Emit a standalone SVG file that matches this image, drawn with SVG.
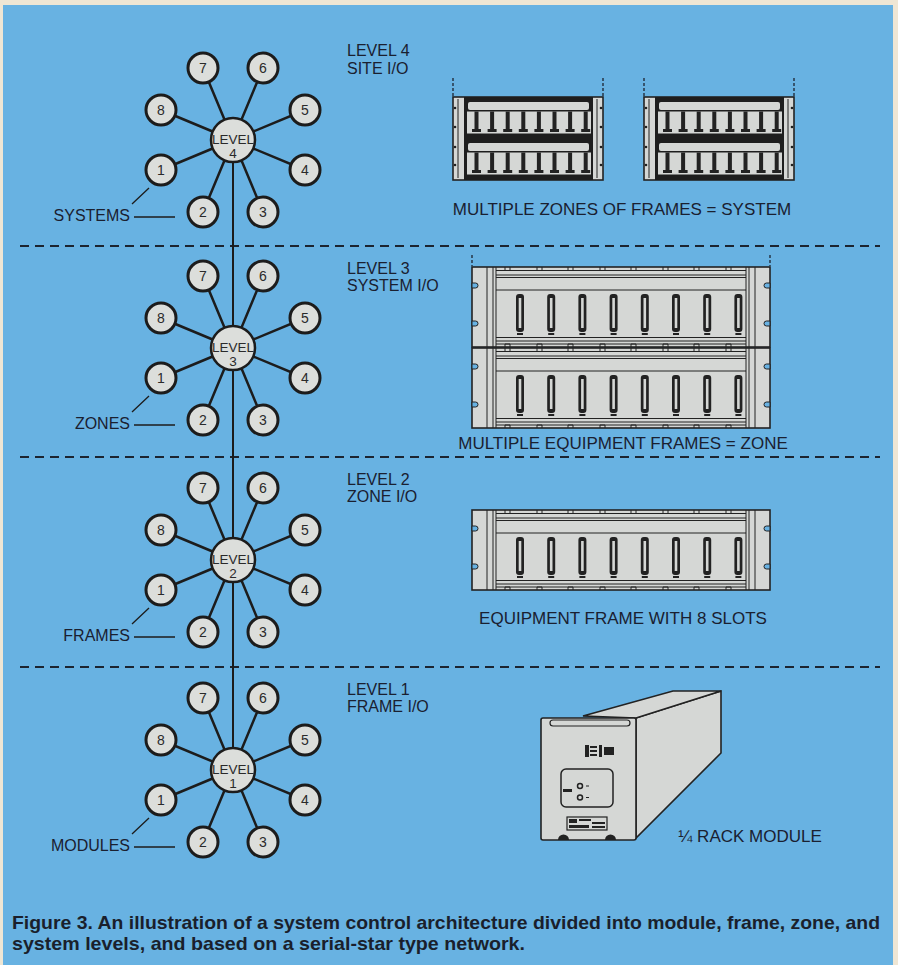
<svg xmlns="http://www.w3.org/2000/svg" width="898" height="965" viewBox="0 0 898 965">
<style>
.sat{fill:#dcdedb;stroke:#1c1c1c;stroke-width:3}
.hub{fill:#dcdedb;stroke:#1c1c1c;stroke-width:2.5}
.num{font-family:"Liberation Sans",Arial,sans-serif;font-size:14px;fill:#2a2a2a;text-anchor:middle}
.hubt{font-family:"Liberation Sans",Arial,sans-serif;font-size:13.5px;fill:#2a2a2a;text-anchor:middle}
.lbl{font-family:"Liberation Sans",Arial,sans-serif;font-size:16px;fill:#1a2030}
.lend{text-anchor:end}
.cap{font-family:"Liberation Sans",Arial,sans-serif;font-size:17px;fill:#1a2030;text-anchor:middle}
.fig{font-family:"Liberation Sans",Arial,sans-serif;font-size:19px;font-weight:bold;fill:#1a1f2c}
.spoke{stroke:#1c1c1c;stroke-width:2.5;fill:none}
.trunk{stroke:#1c1c1c;stroke-width:2;fill:none}
.lead{stroke:#1c1c1c;stroke-width:1.3;fill:none}
.sep{stroke:#1c2430;stroke-width:2;stroke-dasharray:9 6;fill:none}
.mark{stroke:#1c2430;stroke-width:1.3;stroke-dasharray:3 2;fill:none}
.metal{fill:#d5d7d5;stroke:#222;stroke-width:1.6}
.ln{stroke:#222;stroke-width:1;fill:none}
.dk{fill:#222}
.lt{fill:#d5d7d5}
.notch{fill:#68b2e2;stroke:#222;stroke-width:1}
</style>
<defs>
<g id="frame">
<rect class="metal" x="0" y="0" width="298" height="80"/>
<path class="ln" d="M15,0V80M21,0V80M24,0V80M274,0V80M277,0V80M283,0V80M24,3.5H274M24,8H274M24,10.5H274M24,23H274M24,70.5H274M24,74H274M24,77H274"/>
<path class="notch" d="M0,16h3.5a2.5,2.5 0 0 1 0,5h-3.5zM0,54h3.5a2.5,2.5 0 0 1 0,5h-3.5zM298,16h-3.5a2.5,2.5 0 0 0 0,5h3.5zM298,54h-3.5a2.5,2.5 0 0 0 0,5h3.5z"/>
<path class="ln" d="M33,0v3.5h5v-3.5M65,0v3.5h5v-3.5M96,0v3.5h5v-3.5M128,0v3.5h5v-3.5M159,0v3.5h5v-3.5M191,0v3.5h5v-3.5M222,0v3.5h5v-3.5M254,0v3.5h5v-3.5M33,80v-3h5v3M65,80v-3h5v3M96,80v-3h5v3M128,80v-3h5v3M159,80v-3h5v3M191,80v-3h5v3M222,80v-3h5v3M254,80v-3h5v3"/>
<g id="fslot"><rect class="dk" x="44" y="27" width="8" height="38" rx="3"/><rect class="lt" x="46.7" y="31" width="2.6" height="30"/><rect class="dk" x="45" y="66" width="6" height="2"/></g>
<use href="#fslot" x="31.2"/><use href="#fslot" x="62.4"/><use href="#fslot" x="93.6"/><use href="#fslot" x="124.8"/><use href="#fslot" x="156"/><use href="#fslot" x="187.2"/><use href="#fslot" x="218.4"/>
</g>
<g id="rack">
<rect class="metal" x="0" y="0" width="150" height="83"/>
<rect x="11" y="0" width="129" height="83" fill="#1e1e1e"/>
<path class="ln" d="M5,2V81M144,2V81"/>
<circle class="dk" cx="2" cy="11" r="1.3"/><circle class="dk" cx="2" cy="30" r="1.3"/><circle class="dk" cx="2" cy="50" r="1.3"/><circle class="dk" cx="2" cy="68" r="1.3"/>
<circle class="dk" cx="148" cy="11" r="1.3"/><circle class="dk" cx="148" cy="30" r="1.3"/><circle class="dk" cx="148" cy="50" r="1.3"/><circle class="dk" cx="148" cy="68" r="1.3"/>
<g id="rsec">
<rect class="lt" x="15" y="5" width="121" height="8" rx="2"/>
<rect class="lt" x="14" y="14.5" width="124" height="22"/>
<g id="rslot"><rect class="dk" x="21.5" y="14.5" width="4" height="18"/><rect class="dk" x="19" y="32" width="9" height="3"/></g>
<use href="#rslot" x="15.6"/><use href="#rslot" x="31.2"/><use href="#rslot" x="46.8"/><use href="#rslot" x="62.4"/><use href="#rslot" x="78"/><use href="#rslot" x="93.6"/><use href="#rslot" x="109.2"/>
</g>
<use href="#rsec" y="41"/>
</g>
</defs>
<rect x="0" y="0" width="898" height="965" fill="#efe6d4"/>
<rect x="3" y="5" width="890" height="960" fill="#68b2e2"/>

<g id="separators">
<line class="sep" x1="20" y1="246" x2="880" y2="246"/>
<line class="sep" x1="20" y1="457" x2="880" y2="457"/>
<line class="sep" x1="20" y1="667" x2="880" y2="667"/>
</g>

<g id="connectors">
<line class="trunk" x1="233" y1="140" x2="233" y2="770"/>
<path class="spoke" d="M233,140L203,68M233,140L263,68M233,140L161,110M233,140L305,110M233,140L161,170M233,140L305,170M233,140L203,212M233,140L263,212"/>
<path class="spoke" d="M233,348L203,276M233,348L263,276M233,348L161,318M233,348L305,318M233,348L161,378M233,348L305,378M233,348L203,420M233,348L263,420"/>
<path class="spoke" d="M233,560L203,488M233,560L263,488M233,560L161,530M233,560L305,530M233,560L161,590M233,560L305,590M233,560L203,632M233,560L263,632"/>
<path class="spoke" d="M233,770L203,698M233,770L263,698M233,770L161,740M233,770L305,740M233,770L161,800M233,770L305,800M233,770L203,842M233,770L263,842"/>
<path class="lead" d="M132,204L149,188M134,217H175"/>
<path class="lead" d="M132,412L149,396M134,425H175"/>
<path class="lead" d="M132,624L149,608M134,637H175"/>
<path class="lead" d="M132,834L149,818M134,847H175"/>
</g>

<g id="level4-star">
<g id="l4-hub"><circle class="hub" cx="233" cy="140" r="22"/><text class="hubt" x="233" y="144">LEVEL</text><text class="hubt" x="233" y="158">4</text></g>
<g id="l4-n7"><circle class="sat" cx="203" cy="68" r="15"/><text class="num" x="203" y="73">7</text></g>
<g id="l4-n6"><circle class="sat" cx="263" cy="68" r="15"/><text class="num" x="263" y="73">6</text></g>
<g id="l4-n8"><circle class="sat" cx="161" cy="110" r="15"/><text class="num" x="161" y="115">8</text></g>
<g id="l4-n5"><circle class="sat" cx="305" cy="110" r="15"/><text class="num" x="305" y="115">5</text></g>
<g id="l4-n1"><circle class="sat" cx="161" cy="170" r="15"/><text class="num" x="161" y="175">1</text></g>
<g id="l4-n4"><circle class="sat" cx="305" cy="170" r="15"/><text class="num" x="305" y="175">4</text></g>
<g id="l4-n2"><circle class="sat" cx="203" cy="212" r="15"/><text class="num" x="203" y="217">2</text></g>
<g id="l4-n3"><circle class="sat" cx="263" cy="212" r="15"/><text class="num" x="263" y="217">3</text></g>
</g>
<g id="level3-star">
<g id="l3-hub"><circle class="hub" cx="233" cy="348" r="22"/><text class="hubt" x="233" y="352">LEVEL</text><text class="hubt" x="233" y="366">3</text></g>
<g id="l3-n7"><circle class="sat" cx="203" cy="276" r="15"/><text class="num" x="203" y="281">7</text></g>
<g id="l3-n6"><circle class="sat" cx="263" cy="276" r="15"/><text class="num" x="263" y="281">6</text></g>
<g id="l3-n8"><circle class="sat" cx="161" cy="318" r="15"/><text class="num" x="161" y="323">8</text></g>
<g id="l3-n5"><circle class="sat" cx="305" cy="318" r="15"/><text class="num" x="305" y="323">5</text></g>
<g id="l3-n1"><circle class="sat" cx="161" cy="378" r="15"/><text class="num" x="161" y="383">1</text></g>
<g id="l3-n4"><circle class="sat" cx="305" cy="378" r="15"/><text class="num" x="305" y="383">4</text></g>
<g id="l3-n2"><circle class="sat" cx="203" cy="420" r="15"/><text class="num" x="203" y="425">2</text></g>
<g id="l3-n3"><circle class="sat" cx="263" cy="420" r="15"/><text class="num" x="263" y="425">3</text></g>
</g>
<g id="level2-star">
<g id="l2-hub"><circle class="hub" cx="233" cy="560" r="22"/><text class="hubt" x="233" y="564">LEVEL</text><text class="hubt" x="233" y="578">2</text></g>
<g id="l2-n7"><circle class="sat" cx="203" cy="488" r="15"/><text class="num" x="203" y="493">7</text></g>
<g id="l2-n6"><circle class="sat" cx="263" cy="488" r="15"/><text class="num" x="263" y="493">6</text></g>
<g id="l2-n8"><circle class="sat" cx="161" cy="530" r="15"/><text class="num" x="161" y="535">8</text></g>
<g id="l2-n5"><circle class="sat" cx="305" cy="530" r="15"/><text class="num" x="305" y="535">5</text></g>
<g id="l2-n1"><circle class="sat" cx="161" cy="590" r="15"/><text class="num" x="161" y="595">1</text></g>
<g id="l2-n4"><circle class="sat" cx="305" cy="590" r="15"/><text class="num" x="305" y="595">4</text></g>
<g id="l2-n2"><circle class="sat" cx="203" cy="632" r="15"/><text class="num" x="203" y="637">2</text></g>
<g id="l2-n3"><circle class="sat" cx="263" cy="632" r="15"/><text class="num" x="263" y="637">3</text></g>
</g>
<g id="level1-star">
<g id="l1-hub"><circle class="hub" cx="233" cy="770" r="22"/><text class="hubt" x="233" y="774">LEVEL</text><text class="hubt" x="233" y="788">1</text></g>
<g id="l1-n7"><circle class="sat" cx="203" cy="698" r="15"/><text class="num" x="203" y="703">7</text></g>
<g id="l1-n6"><circle class="sat" cx="263" cy="698" r="15"/><text class="num" x="263" y="703">6</text></g>
<g id="l1-n8"><circle class="sat" cx="161" cy="740" r="15"/><text class="num" x="161" y="745">8</text></g>
<g id="l1-n5"><circle class="sat" cx="305" cy="740" r="15"/><text class="num" x="305" y="745">5</text></g>
<g id="l1-n1"><circle class="sat" cx="161" cy="800" r="15"/><text class="num" x="161" y="805">1</text></g>
<g id="l1-n4"><circle class="sat" cx="305" cy="800" r="15"/><text class="num" x="305" y="805">4</text></g>
<g id="l1-n2"><circle class="sat" cx="203" cy="842" r="15"/><text class="num" x="203" y="847">2</text></g>
<g id="l1-n3"><circle class="sat" cx="263" cy="842" r="15"/><text class="num" x="263" y="847">3</text></g>
</g>

<g id="side-labels">
<text class="lbl lend" x="130" y="221">SYSTEMS</text>
<text class="lbl lend" x="130" y="429">ZONES</text>
<text class="lbl lend" x="130" y="641">FRAMES</text>
<text class="lbl lend" x="130" y="851">MODULES</text>
</g>

<g id="level-labels">
<text class="lbl" x="347" y="56">LEVEL 4</text><text class="lbl" x="347" y="74">SITE I/O</text>
<text class="lbl" x="347" y="274">LEVEL 3</text><text class="lbl" x="347" y="291">SYSTEM I/O</text>
<text class="lbl" x="347" y="485">LEVEL 2</text><text class="lbl" x="347" y="502">ZONE I/O</text>
<text class="lbl" x="347" y="695">LEVEL 1</text><text class="lbl" x="347" y="712">FRAME I/O</text>
</g>

<g id="system-racks">
<path class="mark" d="M453,78V96M603,78V96M644,78V96M794,78V96"/>
<use href="#rack" x="453" y="97"/>
<use href="#rack" x="644" y="97"/>
<text class="cap" x="622" y="215">MULTIPLE ZONES OF FRAMES = SYSTEM</text>
</g>

<g id="zone-frames">
<path class="mark" d="M472,255V266M770,255V266"/>
<use href="#frame" x="472" y="267"/>
<use href="#frame" x="472" y="348"/>
<text class="cap" x="623" y="449">MULTIPLE EQUIPMENT FRAMES = ZONE</text>
</g>

<g id="equipment-frame">
<use href="#frame" x="472" y="510"/>
<text class="cap" x="623" y="624">EQUIPMENT FRAME WITH 8 SLOTS</text>
</g>

<g id="rack-module">
<polygon class="metal" stroke-width="2.2" points="636,718 721,691 721,753 636,838"/>
<polygon class="metal" stroke-width="2.2" points="583,716 673,691 721,691 636,718"/>
<rect class="metal" stroke-width="2.5" x="541" y="718" width="95" height="122" rx="2"/>
<rect x="550" y="720" width="80" height="6" rx="3" fill="none" stroke="#222" stroke-width="1.2"/>
<rect class="dk" x="585" y="745" width="4" height="12"/><rect class="dk" x="590" y="746" width="7" height="2"/><rect class="dk" x="590" y="750" width="7" height="2"/><rect class="dk" x="590" y="754" width="7" height="2"/><rect class="dk" x="599" y="745" width="3" height="12"/><rect class="dk" x="604" y="747" width="10" height="8"/>
<rect x="561" y="769" width="52" height="38" rx="5" fill="none" stroke="#222" stroke-width="1.5"/>
<rect class="dk" x="563" y="789" width="9" height="3"/>
<circle cx="580" cy="786" r="2.5" fill="none" stroke="#222" stroke-width="1.5"/>
<circle cx="580" cy="797.5" r="2.5" fill="none" stroke="#222" stroke-width="1.5"/>
<path class="ln" d="M586,786h3M586,797.5h3"/>
<rect x="567" y="817" width="40" height="13" fill="none" stroke="#222" stroke-width="1.2"/>
<rect class="dk" x="569" y="819" width="8" height="4"/><rect class="dk" x="579" y="819" width="12" height="2"/><rect class="dk" x="569" y="825" width="20" height="3"/><rect class="dk" x="592" y="822" width="13" height="2"/><rect class="dk" x="592" y="826" width="13" height="2"/>
<path class="dk" d="M558,840a5.5,5.5 0 0 1 11,0zM605,840a5.5,5.5 0 0 1 11,0z"/>
<text class="cap" x="750" y="842">¼ RACK MODULE</text>
</g>

<g id="caption">
<text class="fig" x="12" y="929" textLength="868" lengthAdjust="spacingAndGlyphs">Figure 3. An illustration of a system control architecture divided into module, frame, zone, and</text>
<text class="fig" x="12" y="950" textLength="513" lengthAdjust="spacingAndGlyphs">system levels, and based on a serial-star type network.</text>
</g>
</svg>
